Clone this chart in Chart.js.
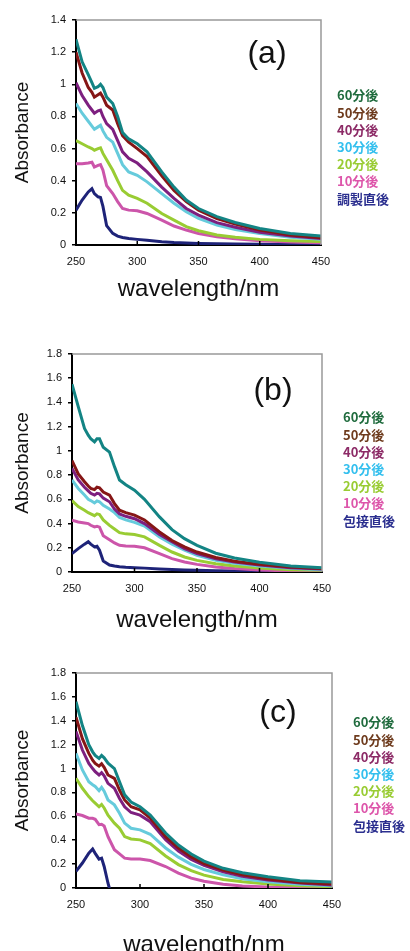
<!DOCTYPE html>
<html>
<head>
<meta charset="utf-8">
<script src="https://cdn.jsdelivr.net/npm/chart.js@4.4.0/dist/chart.umd.min.js"></script>
<style>
  html, body { margin: 0; padding: 0; background: #fff; width: 410px; height: 951px; overflow: hidden; }
  canvas { position: absolute; left: 0; }
  .tag { position: absolute; font: 32px "Liberation Sans", Arial, sans-serif; color: #111; transform: translate(-50%, -50%); white-space: nowrap; }
  .legend { position: absolute; font: bold 13px "Noto Sans CJK JP", sans-serif; line-height: 17.2px; white-space: nowrap; }
</style>
</head>
<body>
<canvas id="chartA" width="410" height="301" style="top:0px"></canvas>
<canvas id="chartB" width="410" height="302" style="top:330px"></canvas>
<canvas id="chartC" width="410" height="307" style="top:650px"></canvas>

<script>
// wavelength grid (nm) shared by all curves
const wavelengths = [250, 255, 260, 263, 265, 268, 270, 272, 275, 280, 284, 288, 293, 300, 308, 320, 330, 340, 350, 365, 380, 400, 425, 450];
const xTicks = [250, 300, 350, 400, 450];
const legendA = ['60分後', '50分後', '40分後', '30分後', '20分後', '10分後', '調製直後'];
const legendBC = ['60分後', '50分後', '40分後', '30分後', '20分後', '10分後', '包接直後'];

// (a)
const a60 = [1.28, 1.14, 1.06, 1.01, 0.975, 0.985, 1.0, 0.98, 0.92, 0.88, 0.80, 0.70, 0.66, 0.63, 0.58, 0.455, 0.36, 0.28, 0.227, 0.176, 0.14, 0.103, 0.072, 0.056];
const a50 = [1.20, 1.07, 0.98, 0.95, 0.92, 0.935, 0.945, 0.92, 0.87, 0.84, 0.755, 0.68, 0.64, 0.60, 0.55, 0.43, 0.34, 0.27, 0.217, 0.165, 0.13, 0.093, 0.062, 0.045];
const a40 = [1.01, 0.93, 0.87, 0.84, 0.82, 0.835, 0.84, 0.80, 0.755, 0.72, 0.65, 0.58, 0.54, 0.51, 0.455, 0.36, 0.29, 0.227, 0.186, 0.139, 0.11, 0.079, 0.056, 0.041];
const a30 = [0.88, 0.82, 0.77, 0.74, 0.72, 0.735, 0.745, 0.71, 0.67, 0.64, 0.57, 0.50, 0.455, 0.434, 0.393, 0.32, 0.26, 0.207, 0.165, 0.124, 0.097, 0.072, 0.048, 0.035];
const a20 = [0.65, 0.63, 0.61, 0.60, 0.59, 0.60, 0.605, 0.57, 0.53, 0.465, 0.40, 0.34, 0.31, 0.29, 0.26, 0.196, 0.155, 0.114, 0.089, 0.062, 0.048, 0.035, 0.027, 0.021];
const a10 = [0.505, 0.505, 0.51, 0.515, 0.485, 0.495, 0.50, 0.465, 0.37, 0.32, 0.27, 0.227, 0.217, 0.213, 0.196, 0.155, 0.118, 0.093, 0.072, 0.052, 0.039, 0.027, 0.019, 0.014];
const a0  = [0.217, 0.28, 0.33, 0.35, 0.32, 0.30, 0.296, 0.24, 0.12, 0.072, 0.055, 0.047, 0.04, 0.035, 0.029, 0.02, 0.015, 0.012, 0.01, 0.008, 0.006, 0.004, 0.003, 0.002];

// (b)
const b60 = [1.55, 1.365, 1.185, 1.13, 1.10, 1.075, 1.10, 1.10, 1.03, 0.99, 0.87, 0.76, 0.72, 0.675, 0.60, 0.455, 0.35, 0.275, 0.22, 0.155, 0.115, 0.08, 0.05, 0.036];
const b50 = [0.92, 0.81, 0.745, 0.71, 0.69, 0.68, 0.70, 0.695, 0.66, 0.635, 0.565, 0.51, 0.49, 0.47, 0.43, 0.33, 0.26, 0.207, 0.165, 0.12, 0.088, 0.063, 0.041, 0.028];
const b40 = [0.855, 0.76, 0.70, 0.67, 0.65, 0.635, 0.65, 0.645, 0.61, 0.58, 0.52, 0.48, 0.46, 0.44, 0.40, 0.31, 0.25, 0.193, 0.152, 0.11, 0.083, 0.058, 0.036, 0.025];
const b30 = [0.76, 0.69, 0.635, 0.60, 0.59, 0.57, 0.587, 0.58, 0.55, 0.52, 0.49, 0.45, 0.43, 0.41, 0.38, 0.29, 0.23, 0.18, 0.138, 0.097, 0.072, 0.05, 0.03, 0.019];
const b20 = [0.59, 0.54, 0.51, 0.49, 0.48, 0.465, 0.48, 0.475, 0.43, 0.385, 0.355, 0.325, 0.315, 0.31, 0.29, 0.22, 0.165, 0.124, 0.096, 0.069, 0.05, 0.033, 0.019, 0.014];
const b10 = [0.427, 0.413, 0.405, 0.40, 0.386, 0.372, 0.378, 0.37, 0.30, 0.267, 0.24, 0.22, 0.214, 0.212, 0.20, 0.152, 0.11, 0.083, 0.063, 0.041, 0.028, 0.017, 0.008, 0.006];
const b0  = [0.152, 0.193, 0.23, 0.25, 0.23, 0.207, 0.212, 0.18, 0.09, 0.058, 0.049, 0.043, 0.039, 0.036, 0.032, 0.025, 0.02, 0.017, 0.014, 0.011, 0.008, 0.006, 0.004, 0.003];

// (c)
const c60 = [1.56, 1.36, 1.20, 1.14, 1.11, 1.085, 1.11, 1.09, 1.045, 1.0, 0.89, 0.78, 0.72, 0.68, 0.61, 0.46, 0.36, 0.285, 0.225, 0.165, 0.128, 0.095, 0.061, 0.05];
const c50 = [1.43, 1.25, 1.127, 1.07, 1.043, 1.02, 1.04, 1.01, 0.946, 0.918, 0.82, 0.737, 0.68, 0.654, 0.585, 0.43, 0.335, 0.26, 0.204, 0.15, 0.11, 0.075, 0.047, 0.033];
const c40 = [1.31, 1.155, 1.043, 1.0, 0.974, 0.946, 0.965, 0.94, 0.876, 0.835, 0.75, 0.68, 0.632, 0.61, 0.555, 0.405, 0.31, 0.24, 0.19, 0.135, 0.098, 0.067, 0.042, 0.025];
const c30 = [1.127, 0.988, 0.89, 0.865, 0.85, 0.815, 0.843, 0.81, 0.737, 0.696, 0.626, 0.543, 0.50, 0.487, 0.45, 0.335, 0.258, 0.198, 0.155, 0.11, 0.078, 0.053, 0.031, 0.019];
const c20 = [0.918, 0.835, 0.765, 0.73, 0.71, 0.68, 0.70, 0.67, 0.61, 0.543, 0.50, 0.43, 0.41, 0.403, 0.372, 0.268, 0.196, 0.145, 0.108, 0.072, 0.052, 0.033, 0.019, 0.011];
const c10 = [0.62, 0.607, 0.584, 0.584, 0.575, 0.53, 0.534, 0.52, 0.43, 0.32, 0.285, 0.25, 0.242, 0.242, 0.23, 0.18, 0.125, 0.083, 0.056, 0.031, 0.017, 0.008, 0.003, 0.0];
const c0  = [0.139, 0.209, 0.292, 0.326, 0.29, 0.242, 0.25, 0.18, 0.04, -0.15, null, null, null, null, null, null, null, null, null, null, null, null, null, null];

const lineColors = ['#138484', '#861616', '#7d1f7f', '#66cbdc', '#99cc33', '#cc55aa', '#1e2378'];
const legendColors = ['#1f6b3d', '#6e3b1d', '#8c2a66', '#33bfee', '#99cc33', '#dd55aa', '#2b2f8f'];

const panels = [
  { id: 'chartA', tag: '(a)', top: 0, yMax: 1.4, series: [a60, a50, a40, a30, a20, a10, a0], labels: legendA,
    padTop: 20, padRight: 89, yWidth: 76, xHeight: 56, tagX: 267, tagY: 52, legX: 337, legY: 95 },
  { id: 'chartB', tag: '(b)', top: 330, yMax: 1.8, series: [b60, b50, b40, b30, b20, b10, b0], labels: legendBC,
    padTop: 24, padRight: 88, yWidth: 72, xHeight: 60, tagX: 273, tagY: 389, legX: 343, legY: 417 },
  { id: 'chartC', tag: '(c)', top: 650, yMax: 1.8, series: [c60, c50, c40, c30, c20, c10, c0], labels: legendBC,
    padTop: 23, padRight: 78, yWidth: 76, xHeight: 69, tagX: 278, tagY: 711, legX: 353, legY: 722 }
];

// grey frame on top/right, small inner ticks on the x axis
const framePlugin = {
  id: 'frame',
  afterDraw(chart) {
    const { ctx, chartArea: { left, right, top, bottom }, scales: { x } } = chart;
    ctx.save();
    ctx.strokeStyle = '#999';
    ctx.lineWidth = 1.5;
    ctx.beginPath();
    ctx.moveTo(left, top);
    ctx.lineTo(right, top);
    ctx.lineTo(right, bottom);
    ctx.stroke();
    ctx.strokeStyle = '#000';
    ctx.beginPath();
    xTicks.slice(1, -1).forEach(v => {
      const px = x.getPixelForValue(v);
      ctx.moveTo(px, bottom);
      ctx.lineTo(px, bottom - 4);
    });
    ctx.stroke();
    ctx.restore();
  }
};

const tickFont = { family: '"Liberation Sans", Arial, sans-serif', size: 11 };

panels.forEach(p => {
  const datasets = p.series.map((s, i) => ({
    label: p.labels[i],
    data: wavelengths.map((w, j) => ({ x: w, y: s[j] })),
    borderColor: lineColors[i],
    borderWidth: 3,
    pointRadius: 0,
    fill: false,
    tension: 0
  }));

  new Chart(document.getElementById(p.id), {
    type: 'line',
    data: { datasets },
    plugins: [framePlugin],
    options: {
      responsive: false,
      animation: false,
      devicePixelRatio: 1,
      layout: { padding: { left: 0, right: p.padRight, top: p.padTop, bottom: 0 } },
      plugins: { legend: { display: false }, tooltip: { enabled: false } },
      scales: {
        x: {
          type: 'linear',
          min: 250,
          max: 450,
          afterBuildTicks: s => { s.ticks = xTicks.map(v => ({ value: v })); },
          afterFit: s => { s.height = p.xHeight; },
          grid: { display: false, drawTicks: false },
          border: { display: true, color: '#000', width: 2 },
          ticks: { color: '#111', font: tickFont, padding: 10, maxRotation: 0 },
          title: {
            display: true,
            text: 'wavelength/nm',
            color: '#111',
            font: { family: '"Liberation Sans", Arial, sans-serif', size: 24, lineHeight: 1 },
            padding: { top: 0, bottom: 0 }
          }
        },
        y: {
          min: 0,
          max: p.yMax,
          afterFit: s => { s.width = p.yWidth; },
          grid: { drawOnChartArea: false, drawTicks: true, tickLength: 4, color: '#000', lineWidth: 1.5 },
          border: { display: true, color: '#000', width: 2 },
          ticks: {
            stepSize: 0.2,
            color: '#111',
            font: tickFont,
            padding: 6,
            callback: v => String(Math.round(v * 10) / 10)
          },
          title: {
            display: true,
            text: 'Absorbance',
            color: '#111',
            font: { family: '"Liberation Sans", Arial, sans-serif', size: 19, lineHeight: 1.2 },
            padding: { top: 11, bottom: 0 }
          }
        }
      }
    }
  });

  const tag = document.createElement('div');
  tag.className = 'tag';
  tag.textContent = p.tag;
  tag.style.left = p.tagX + 'px';
  tag.style.top = p.tagY + 'px';
  document.body.appendChild(tag);

  const leg = document.createElement('div');
  leg.className = 'legend';
  leg.style.left = p.legX + 'px';
  leg.style.top = (p.legY - 8.6) + 'px';
  p.labels.forEach((t, i) => {
    const row = document.createElement('div');
    row.textContent = t;
    row.style.color = legendColors[i];
    leg.appendChild(row);
  });
  document.body.appendChild(leg);
});
</script>
</body>
</html>
